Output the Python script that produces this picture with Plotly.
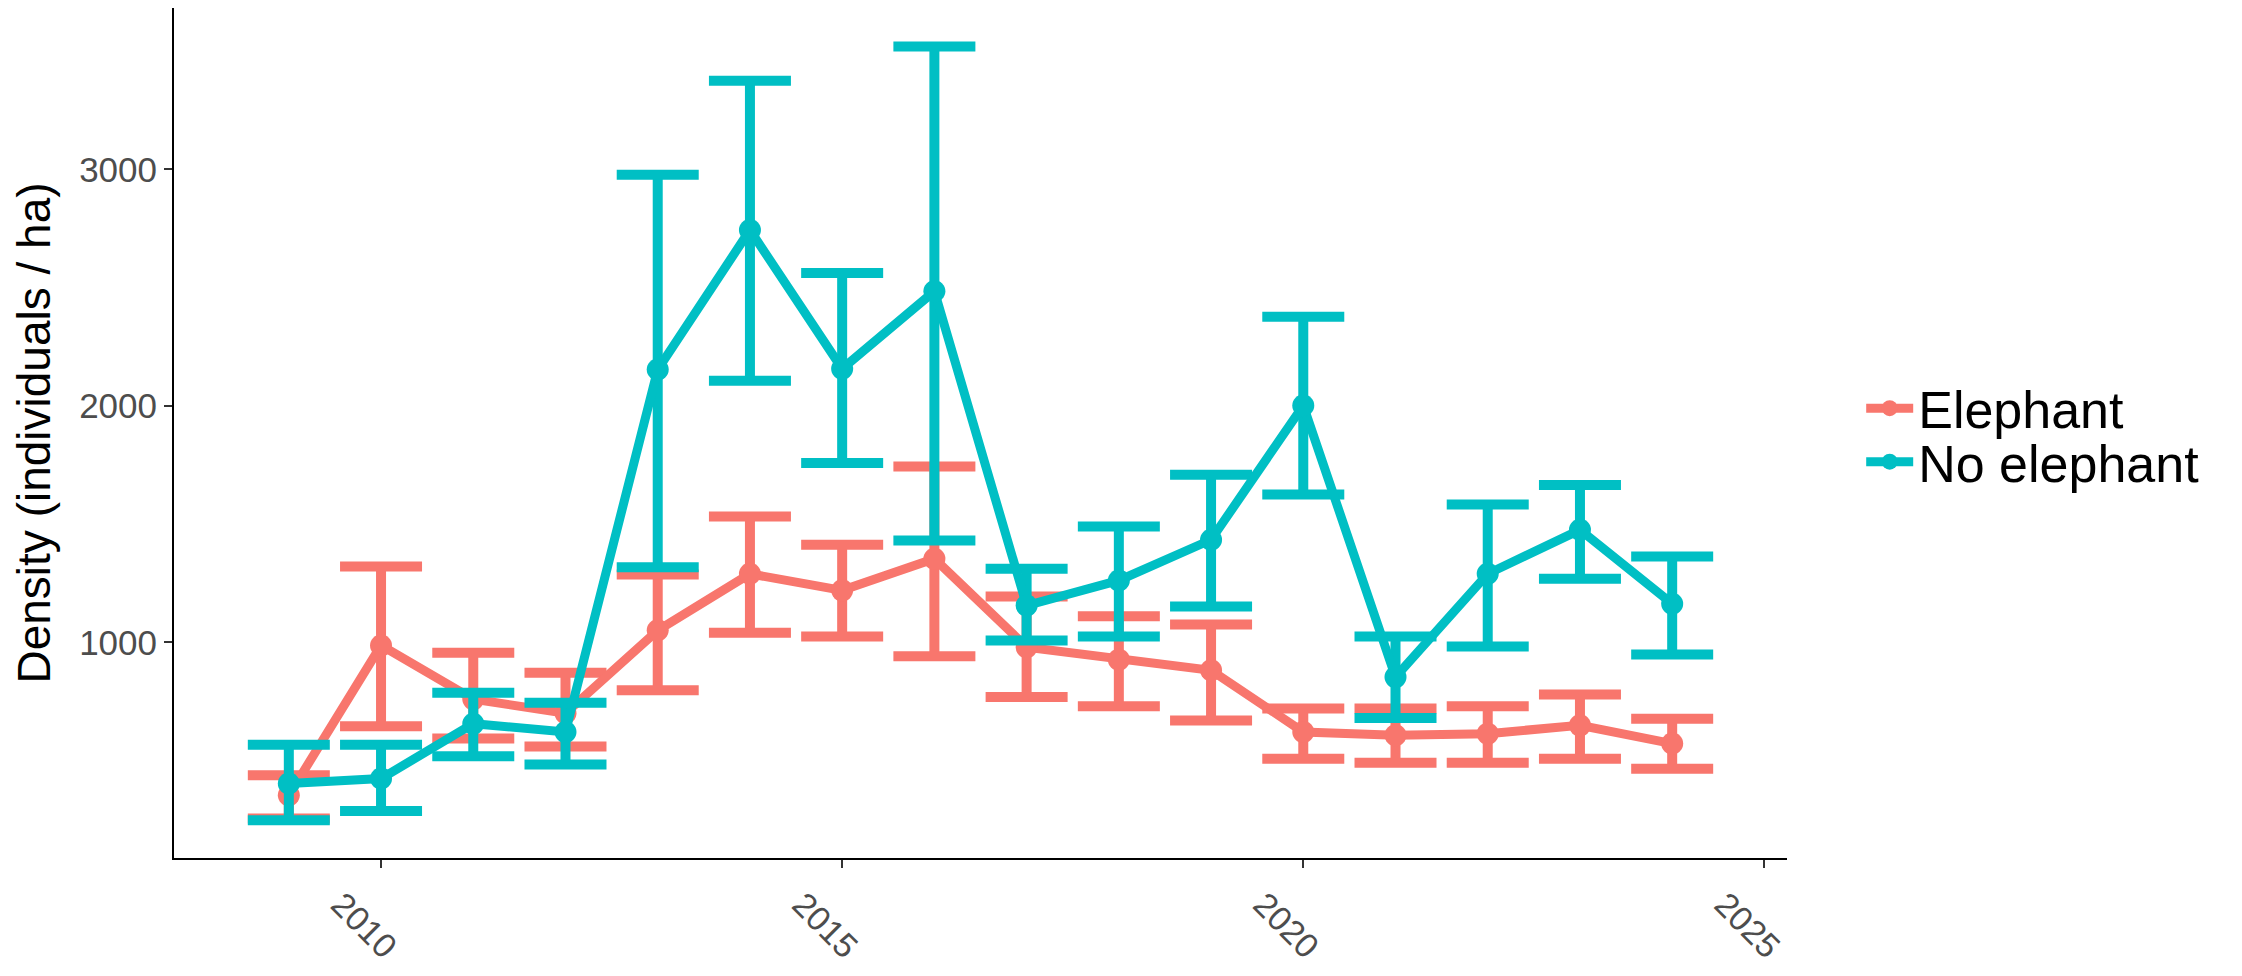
import plotly.graph_objects as go

years = list(range(2009, 2025))

elephant_mean = [353, 987, 760, 700, 1051, 1290, 1220, 1354, 980, 927, 882, 621, 607, 614, 649, 572]
elephant_upper = [438, 1321, 956, 872, 1287, 1532, 1413, 1744, 1194, 1110, 1076, 720, 720, 730, 779, 677]
elephant_lower = [255, 645, 593, 560, 797, 1041, 1025, 941, 769, 730, 670, 508, 491, 491, 508, 466]

noeleph_mean = [403, 424, 656, 621, 2154, 2744, 2157, 2485, 1156, 1262, 1434, 2002, 853, 1290, 1476, 1163]
noeleph_upper = [567, 567, 787, 745, 2978, 3375, 2562, 3520, 1311, 1490, 1709, 2377, 1025, 1583, 1666, 1363]
noeleph_lower = [248, 287, 518, 483, 1318, 2107, 1759, 1431, 1008, 1025, 1152, 1625, 680, 983, 1269, 949]

series = [
    ("Elephant", "#F8766D", elephant_mean, elephant_upper, elephant_lower, "legend"),
    ("No elephant", "#00BFC4", noeleph_mean, noeleph_upper, noeleph_lower, "legend2"),
]

x_ticks = [2010, 2015, 2020, 2025]
y_ticks = [1000, 2000, 3000]

FONT = "Arial, Liberation Sans, sans-serif"

fig = go.Figure()
for name, color, m, up, lo, leg in series:
    fig.add_trace(go.Scatter(
        x=years, y=m, name=name, mode="lines+markers", legend=leg,
        line=dict(color=color, width=9),
        marker=dict(color=color, size=22),
        error_y=dict(type="data", symmetric=False,
                     array=[u - v for u, v in zip(up, m)],
                     arrayminus=[v - l for v, l in zip(m, lo)],
                     color=color, thickness=10, width=41),
    ))

legend_common = dict(xanchor="left", yanchor="middle",
                     font=dict(size=52, color="black", family=FONT),
                     itemwidth=47, bgcolor="rgba(0,0,0,0)")

fig.update_layout(
    width=2226, height=960,
    margin=dict(l=166, r=447, t=0, b=110),
    paper_bgcolor="white", plot_bgcolor="white",
    font=dict(family=FONT),
    showlegend=True,
    legend=dict(x=1.046, y=0.529, **legend_common),
    legend2=dict(x=1.046, y=0.466, **legend_common),
    xaxis=dict(range=[2007.755, 2025.245], tickvals=x_ticks,
               ticktext=[str(t) for t in x_ticks],
               showgrid=False, zeroline=False, showline=True,
               linecolor="black", linewidth=2, automargin=False,
               ticks="outside", ticklen=8, tickwidth=1.5, tickcolor="#333333",
               tickangle=45, tickfont=dict(size=34, color="#4D4D4D", family=FONT),
               ticklabelshift=-40, ticklabelstandoff=3),
    yaxis=dict(range=[88, 3683], tickvals=y_ticks,
               showgrid=False, zeroline=False, showline=True,
               linecolor="black", linewidth=2, automargin=False,
               ticks="outside", ticklen=8, tickwidth=1.5, tickcolor="#333333",
               tickfont=dict(size=35, color="#4D4D4D", family=FONT),
               title=dict(text="Density (individuals / ha)",
                          font=dict(size=46, color="black", family=FONT),
                          standoff=28)),
)

fig.write_html("out.html")
